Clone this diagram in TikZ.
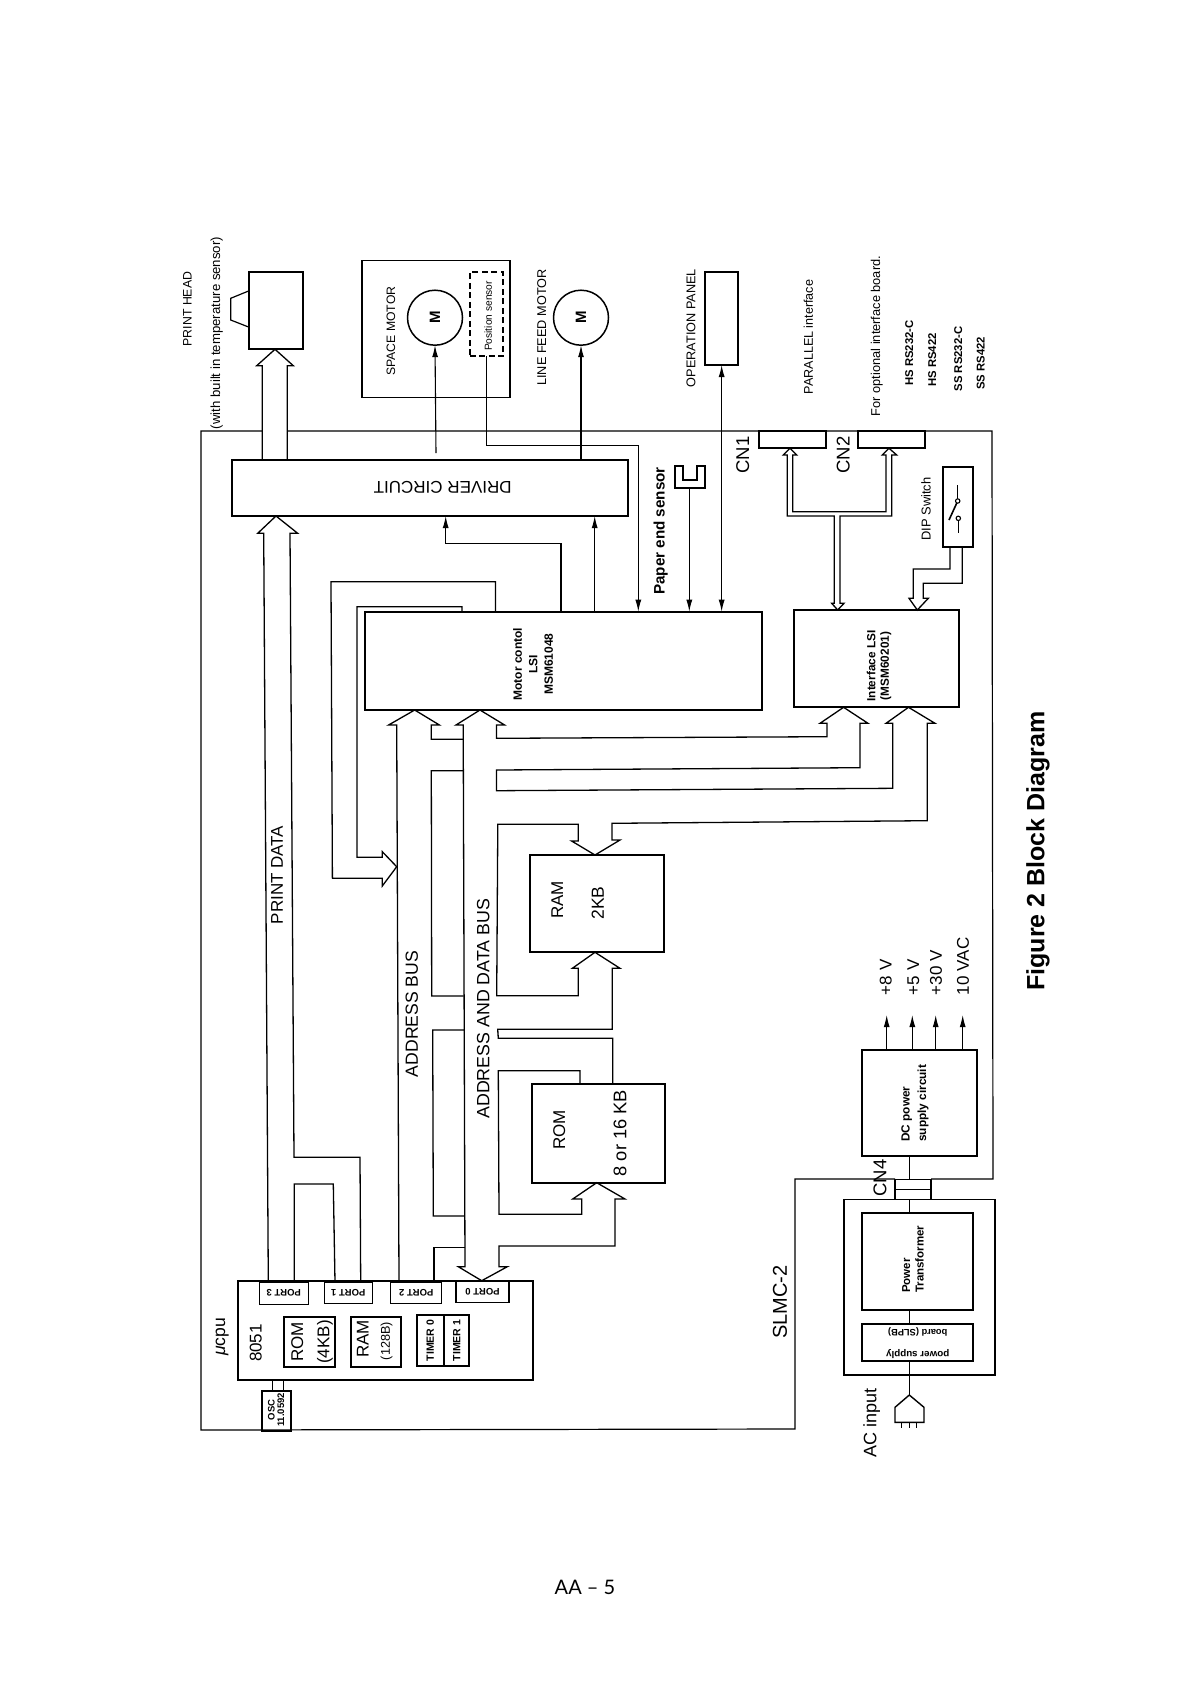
\documentclass[tikz,border=0pt]{standalone}
\usepackage{fontspec}
\setmainfont{Liberation Sans}
\newfontfamily\pagefont{Lato}
\usetikzlibrary{arrows.meta}
\newcommand{\fs}[1]{\fontsize{#1}{#1}\selectfont}
\newcommand{\fsl}[2]{\fontsize{#1}{#2}\selectfont}
\newcommand{\boxat}[6][heavybox]{%
  \node[#1,minimum width={(#5-#3)*1pt},minimum height={(#6-#4)*1pt}] (#2) at ({(#3+#5)/2},{(#4+#6)/2}) {};}
\tikzset{
  heavybox/.style={draw,line width=1.8pt,inner sep=0pt,outer sep=0pt},
  lightbox/.style={draw,line width=1.2pt,inner sep=0pt,outer sep=0pt},
  dashbox/.style={draw,line width=1.8pt,dash pattern=on 6pt off 3.5pt,inner sep=0pt,outer sep=0pt},
  motorcircle/.style={draw,circle,line width=1.5pt,minimum size=55pt,inner sep=0pt,outer sep=0pt,rotate=90,font=\bfseries\fs{15}},
  busline/.style={line width=1.3pt,line join=miter},
  frameline/.style={line width=1.2pt},
  sig/.style={line width=1.1pt},
  sigarrow/.style={line width=1.1pt,-{Latex[length=12pt,width=6pt]}},
  vtext/.style={rotate=90,inner sep=0pt,outer sep=0pt,align=center},
  vleft/.style={rotate=90,inner sep=0pt,outer sep=0pt,anchor=west,align=left},
  utext/.style={rotate=180,inner sep=0pt,outer sep=0pt,align=center},
}
\begin{document}
\begin{tikzpicture}[x=1pt,y=-1pt]
\useasboundingbox (0,0) rectangle (1188,1682);
\fill[white] (0,0) rectangle (1188,1682);

% frame of the SLMC-2 board
\draw[frameline] (262.3,431) -- (201,431) -- (201,1430) -- (795,1429) -- (795,1179) -- (895,1179);
\draw[frameline] (287.3,431) -- (992,431) -- (993,1179) -- (931,1179);

% boxes
\boxat{driver}{232.3}{460}{627.7}{516}
\boxat{head}{249.3}{271.7}{303.3}{349.3}
\boxat[lightbox]{spacebox}{362}{260.7}{510}{397.7}
\boxat[dashbox]{possens}{469.7}{272.3}{503.3}{356}
\node[motorcircle] (sm) at (435,317.7) {M};
\node[motorcircle] (lfm) at (581,317.7) {M};
\boxat{oppanel}{705}{271.7}{738.3}{365}
\boxat{motor}{365}{611.7}{762}{710}
\boxat{iface}{794.3}{610}{959.3}{707.3}
\boxat{cnone}{759}{431}{825.7}{448.3}
\boxat{cntwo}{858.3}{431}{925}{448.3}
\boxat{dip}{943.3}{466.7}{973.3}{547.3}
\boxat{ram}{530}{855}{664}{952.3}
\boxat{rom}{532}{1084.3}{665}{1182.7}
\boxat{cpu}{238.3}{1280.7}{533.3}{1380}
\boxat[lightbox]{port3}{259.3}{1282}{308.3}{1304.3}
\boxat[lightbox]{port1}{324.3}{1282}{372.3}{1303.3}
\boxat[lightbox]{port2}{390.7}{1282}{441.7}{1303.3}
\boxat[lightbox]{port0}{456}{1280.7}{509}{1302.3}
\boxat{introm}{284}{1316.7}{335}{1366.7}
\boxat{intram}{350.7}{1316.7}{401.3}{1366.7}
\boxat{timer0}{416.7}{1315}{444}{1366}
\boxat{timer1}{444}{1315}{469.3}{1366}
\boxat{osc}{261.7}{1390.7}{290.7}{1431}
\boxat{dcsupply}{861.7}{1050}{977.3}{1155.7}
\boxat[lightbox]{psuframe}{844}{1199.3}{995}{1375}
\boxat{transformer}{861.7}{1212.7}{973.3}{1310}
\boxat{slpb}{861.7}{1324}{973.3}{1360.7}
\boxat[lightbox]{cnfour}{895}{1179.3}{931}{1199.3}
\draw[line width=1.5pt] (cnfour.west) -- (cnfour.east);

% print head nose
\draw[line width=1.2pt] (head.west |- 0,290.7) -- (230.7,298.3) -- (230.7,320) -- (head.west |- 0,327.3);

% paper end sensor (U shape)
\draw[heavybox] (675,465.7) -- (675,488.3) -- (705,488.3) -- (705,465.7) -- (696.7,465.7) -- (696.7,480) -- (683.3,480) -- (683.3,465.7) -- cycle;
\coordinate (pes) at (689.3,488.3);

% AC plug
\draw[line width=1.4pt] (909.3,1395) -- (895,1407.3) -- (895,1422.3) -- (924,1422.3) -- (924,1407.3) -- cycle;
\coordinate (plug) at (909.3,1395);
\draw[sig] (901.7,1422.3) -- (901.7,1428) (909.3,1422.3) -- (909.3,1428) (916.7,1422.3) -- (916.7,1428);

% DIP switch symbol
\draw[sig] (957.7,485) -- (957.7,500);
\draw[line width=1.6pt] (957.7,501) -- (949,520);
\draw[sig] (958.3,520) -- (958.3,533.3);
\draw[sig,fill=white] (957.7,501) circle (2.2);
\draw[sig,fill=white] (958.3,518.3) circle (2.2);

% single signal lines
\draw[sigarrow] (436,453) -- (sm.west);
\draw[sigarrow] (driver.north -| lfm.west) -- (lfm.west);
\draw[sigarrow] (possens.south) |- (638.3,445.7) -- (motor.north -| 638.3,0);
\draw[sigarrow] (motor.north -| 561,0) -- (561,543.3) -- (445.7,543.3) -- (driver.south -| 445.7,0);
\draw[sigarrow] (motor.north -| 594.7,0) -- (driver.south -| 594.7,0);
\draw[sigarrow] (pes) -- (motor.north -| pes);
\draw[sig,{Latex[length=12pt,width=6pt]}-{Latex[length=12pt,width=6pt]}] (oppanel.south) -- (motor.north -| oppanel.south);
\foreach \ax in {886.7,912.3,935.7,962.7}
  \draw[sigarrow] (dcsupply.north -| \ax,0) -- (\ax,1015);
\draw[sig] (dcsupply.south -| 909.3,0) -- (cnfour.north -| 909.3,0);
\draw[sig] (cnfour.south -| 909.3,0) -- (transformer.north -| 909.3,0);
\draw[sig] (transformer.south -| 909.3,0) -- (slpb.north -| 909.3,0);
\draw[sig] (slpb.south -| 909.3,0) -- (plug);
\draw[sig] (cpu.south -| 272.3,0) -- (osc.north -| 272.3,0);
\draw[sig] (cpu.south -| 283.7,0) -- (osc.north -| 283.7,0);

% bus from driver to print head
\draw[busline] (driver.north -| 262.3,0) -- (262.3,365.7) -- (256.7,365.7) -- (head.south -| 275,0) -- (293.3,365.7) -- (287.3,365.7) -- (driver.north -| 287.3,0);

% print data bus
\draw[busline] (port3.north -| 268.3,0) -- (263.7,533.3) -- (257.7,533.3) -- (driver.south -| 276,0) -- (297.7,533.3) -- (290,533.3) -- (294,1157.3) -- (360,1157.3) -- (port1.north -| 360.7,0);
\draw[busline] (port3.north -| 294.3,0) -- (294.3,1184) -- (333.3,1184) -- (port1.north -| 335,0);

% loop from the motor LSI back to the address bus
\draw[busline] (motor.north -| 495.5,0) -- (495.5,581.7) -- (331,581.7) -- (332.4,878.3) -- (382.3,878.3) -- (382.3,886) -- (396.7,866.7) -- (382.3,851.7) -- (382.3,857.3) -- (357,857.3) -- (357,606.7) -- (462,606.7) -- (motor.north -| 462,0);

% address bus
\draw[busline] (port2.north -| 399,0) -- (396.7,725) -- (388.6,725) -- (motor.south -| 414.7,0) -- (439.4,725) -- (431.3,725) -- (431.3,739.3) -- (463.2,739.3);
\draw[busline] (463.2,770.7) -- (431.3,770.7) -- (431.7,996) -- (463.5,996);
\draw[busline] (464.2,1030) -- (432.7,1030) -- (433.3,1216) -- (464.7,1216);
\draw[busline] (465,1247.3) -- (434,1247.3) -- (port2.north -| 434,0);

% address and data bus
\draw[busline] (port0.north -| 481.7,0) -- (458.3,1266.7) -- (465,1266.7) -- (463.2,725) -- (456,725) -- (motor.south -| 480,0) -- (504.6,725) -- (496.5,725) -- (496.5,738.3) -- (827,736.7) -- (827,723.3) -- (820,723.3) -- (iface.south -| 843.6,0) -- (868,723.3) -- (860,723.3) -- (860,767.7) -- (496.5,770) -- (496.5,790.7) -- (892.8,788.3) -- (892.8,723.3) -- (886,723.3) -- (iface.south -| 908.5,0) -- (935,723.3) -- (927.3,723.3) -- (927.3,820.7) -- (611.9,823.3) -- (611.9,840) -- (620,840) -- (ram.north -| 595,0) -- (571.6,841) -- (578.3,841) -- (578.3,824.3) -- (497.8,824.3) -- (496.7,995.7) -- (578.3,995.7) -- (578.3,968.3) -- (572.3,968.3) -- (ram.south -| 595,0) -- (620,968.3) -- (612.3,968.3) -- (612.3,1029.3) -- (497.7,1029.3) -- (498.3,1038.3) -- (612.7,1038.3) -- (rom.north -| 612.7,0);
\draw[busline] (rom.north -| 580,0) -- (580,1070.7) -- (498.3,1070.7) -- (499,1214.3) -- (581.7,1214.3) -- (581.7,1199) -- (572.7,1199) -- (rom.south -| 596.7,0) -- (625,1199) -- (615,1199) -- (615,1246) -- (499,1246) -- (499,1266.7) -- (507.3,1266.7) -- (port0.north -| 481.7,0);

% interface connectors
\draw[busline] (iface.north -| 837.7,0) -- (831.7,603.3) -- (834.3,603.3) -- (834.3,516) -- (787.3,516) -- (787.3,455) -- (783.3,455) -- (cnone.south -| 790,0) -- (796.7,455) -- (792.7,455) -- (792.7,511.7) -- (886,511.7) -- (886,455) -- (882.3,455) -- (cntwo.south -| 889,0) -- (896.7,455) -- (891.7,455) -- (891.7,516) -- (840,516) -- (840,603.3) -- (844,603.3) -- cycle;

% DIP switch to interface LSI
\draw[busline] (dip.south -| 950,0) -- (950,569) -- (913.3,569) -- (913.3,598.3) -- (909,598.3) -- (iface.north -| 917.3,0) -- (928.3,598.3) -- (923.3,598.3) -- (923.3,583.3) -- (962.3,583.3) -- (dip.south -| 962.3,0);

% texts
\node[vtext,font=\fs{12.3}] (tphead) at (187.3,309) {PRINT HEAD};
\node[vtext,font=\fs{13.2}] (tbuilt) at (216.7,333) {(with built in temperature sensor)};
\node[vtext,font=\fs{12.2}] (tsm) at (391,331) {SPACE MOTOR};
\node[vtext,font=\fs{10.2}] (tpos) at (488.3,316) {Position sensor};
\node[vtext,font=\fs{12.7}] (tlf) at (541.7,327.5) {LINE FEED MOTOR};
\node[vtext,font=\fs{12.7}] (top) at (691,328) {OPERATION PANEL};
\node[vtext,font=\fs{12.6}] (tpar) at (808.3,337) {PARALLEL interface};
\node[vtext,font=\fs{12.8}] (topt) at (876.7,336) {For optional interface board.};
\node[vtext,font=\bfseries\fs{11.3}] (ths1) at (909.3,353) {HS RS232-C};
\node[vtext,font=\bfseries\fs{11.3}] (ths2) at (932.3,360) {HS RS422};
\node[vtext,font=\bfseries\fs{11.3}] (tss1) at (958.3,359) {SS RS232-C};
\node[vtext,font=\bfseries\fs{11.3}] (tss2) at (980.7,363.5) {SS RS422};
\node[utext,font=\fs{17}] (tdrv) at (442.7,487.3) {DRIVER CIRCUIT};
\node[vtext,font=\bfseries\fs{15.2}] (tpe) at (660.7,531) {Paper end sensor};
\node[vtext,font=\fs{18.5}] (tcn1) at (742.7,455) {CN1};
\node[vtext,font=\fs{18.5}] (tcn2) at (843.3,455) {CN2};
\node[vtext,font=\fs{12.9}] (tdip) at (926,509) {DIP Switch};
\node[vtext,font=\bfseries\fsl{12}{15.5}] (tmot) at (533,664) {Motor contol\\LSI\\MSM61048};
\node[vtext,font=\bfseries\fsl{11.8}{13.5}] (tifc) at (879,666) {Interface LSI\\(MSM60201)};
\node[vtext,font=\fs{17}] (tpd) at (277,875) {PRINT DATA};
\node[vtext,font=\fs{17.6}] (tab) at (411.7,1014) {ADDRESS BUS};
\node[vtext,font=\fs{17.8}] (tadb) at (483.3,1008.7) {ADDRESS AND DATA BUS};
\node[vtext,font=\fs{17}] (tram) at (557.3,900) {RAM};
\node[vtext,font=\fs{17.5}] (tramk) at (597.7,903) {2KB};
\node[vtext,font=\fs{17}] (trom) at (559.3,1130) {ROM};
\node[vtext,font=\fs{18.3}] (tromk) at (620,1133) {8 or 16 KB};
\node[vtext,font=\itshape\fs{17.5}] (tcpu) at (222.3,1336.7) {μ{\upshape cpu}};
\node[vtext,font=\fs{17}] (t8051) at (255.7,1343) {8051};
\node[vtext,font=\fs{17}] (tirom) at (297.3,1342) {ROM};
\node[vtext,font=\fs{17}] (tirk) at (325,1342) {(4KB)};
\node[vtext,font=\fs{17}] (tiram) at (362.7,1339) {RAM};
\node[vtext,font=\fs{12.7}] (tirak) at (386.7,1341) {(128B)};
\node[vtext,font=\bfseries\fs{10.5}] (tt0) at (timer0) {TIMER 0};
\node[vtext,font=\bfseries\fs{10.5}] (tt1) at (timer1) {TIMER 1};
\node[utext,font=\bfseries\fs{9.5}] (tp3) at (port3) {PORT 3};
\node[utext,font=\bfseries\fs{9.5}] (tp1) at (port1) {PORT 1};
\node[utext,font=\bfseries\fs{9.5}] (tp2) at (port2) {PORT 2};
\node[utext,font=\bfseries\fs{9.5}] (tp0) at (port0) {PORT 0};
\node[vtext,font=\bfseries\fsl{9.5}{9.5}] (tosc) at (276,1410) {OSC\\11.0592};
\node[vtext,font=\fs{20}] (tslmc) at (780,1302) {SLMC-2};
\node[vtext,font=\fs{18.5}] (tcn4) at (880,1178) {CN4};
\node[vleft,font=\bfseries\fsl{11.8}{16.5}] (tdc) at (915,1141.7) {DC power\\supply circuit};
\node[vleft,font=\bfseries\fsl{11.5}{13.5}] (ttr) at (913,1292.7) {Power\\Transformer};
\node[utext,font=\bfseries\fs{9.8}] (tsl1) at (917.7,1354.3) {power supply};
\node[utext,font=\bfseries\fs{9.3}] (tsl2) at (917.7,1331.7) {board (SLPB)};
\node[vtext,font=\fs{18}] (tac) at (871.7,1423) {AC input};
\node[vleft,font=\fs{17}] (tv1) at (885.7,995) {+8 V};
\node[vleft,font=\fs{17}] (tv2) at (913.3,995) {+5 V};
\node[vleft,font=\fs{17}] (tv3) at (936,995) {+30 V};
\node[vleft,font=\fs{17}] (tv4) at (963,995) {10 VAC};
\node[vtext,font=\bfseries\fs{25}] (tfig) at (1038,851) {Figure 2 Block Diagram};
\node[inner sep=0pt,font=\pagefont\fs{20}] (tpage) at (585,1587) {AA – 5};
\end{tikzpicture}
\end{document}
